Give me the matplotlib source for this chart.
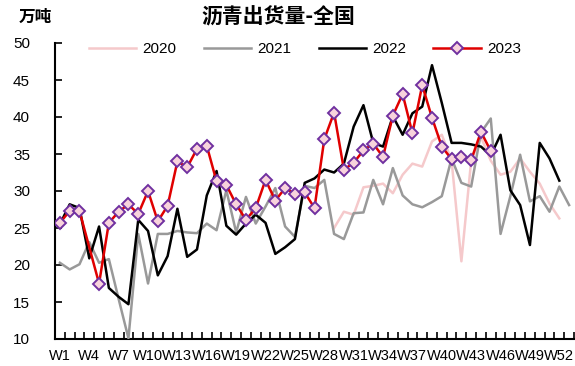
import numpy as np
import matplotlib
matplotlib.use("Agg")
import matplotlib.pyplot as plt

plt.rcParams['font.family'] = ['Liberation Sans', 'Noto Sans CJK SC', 'DejaVu Sans']

weeks = [f"W{i}" for i in range(1, 54)]
nan = np.nan

s2020 = [nan]*28 + [25.0, 27.2, 26.8, 30.5, 30.7, 31.0, 29.7, 32.2, 33.7, 33.3,
                    36.7, 37.6, 34.1, 20.5, 34.1, 37.3, 34.1, 32.2, 32.6, 34.4,
                    32.6, 31.0, 28.3, 26.3, nan]
s2021 = [20.3, 19.4, 20.1, 23.1, 20.3, 20.8, 15.4, 10.1, 24.2, 17.5,
         24.2, 24.2, 24.6, 24.4, 24.3, 25.6, 24.7, 30.1, 24.4, 29.2,
         25.6, 27.9, 30.4, 25.2, 23.8, 30.7, 30.4, 31.5, 24.2, 23.5,
         27.0, 27.1, 31.5, 28.2, 33.1, 29.4, 28.2, 27.8, 28.5, 29.3,
         34.4, 31.1, 30.6, 37.9, 39.8, 24.2, 29.3, 34.9, 28.6, 29.3,
         27.2, 30.6, 28.1]
s2022 = [25.5, 28.2, 27.7, 20.9, 25.2, 16.9, 15.7, 14.7, 26.1, 24.6,
         18.6, 21.2, 27.6, 21.1, 22.1, 29.4, 32.7, 25.3, 24.1, 25.6,
         26.8, 25.7, 21.5, 22.4, 23.5, 31.1, 31.7, 32.9, 32.5, 33.7,
         38.7, 41.6, 36.5, 36.0, 40.1, 37.6, 40.5, 41.4, 47.0, 41.9,
         36.5, 36.5, 36.3, 36.0, 34.8, 37.6, 30.1, 28.1, 22.7, 36.5,
         34.4, 31.4, nan]
s2023 = [25.7, 27.3, 27.3, nan, 17.5, 25.7, 27.2, 28.2, 26.9, 30.0,
         25.9, 28.0, 34.0, 33.2, 35.7, 36.1, 31.3, 30.8, 28.2, 26.1,
         27.7, 31.5, 28.7, 30.4, 29.6, 29.8, 27.7, 37.0, 40.6, 32.9,
         33.8, 35.5, 36.4, 34.6, 40.2, 43.1, 37.8, 44.3, 39.9, 36.0,
         34.3, 34.6, 34.2, 38.0, 35.4] + [nan]*8
yticks = [10, 15, 20, 25, 30, 35, 40, 45, 50]

fig = plt.figure(figsize=(5.75, 3.66), dpi=100)
ax = fig.add_axes([55/575, 27/366, 519/575, 296/366])

x = np.arange(len(weeks))

def plot_series(vals, **kw):
    v = np.array(vals, dtype=float)
    m = ~np.isnan(v)
    return ax.plot(x[m], v[m], **kw)

plot_series(s2020, color='#f5c9cb', lw=1.8, label='2020', zorder=2)
plot_series(s2021, color='#999999', lw=1.8, label='2021', zorder=3)
plot_series(s2022, color='#000000', lw=1.8, label='2022', zorder=4)
plot_series(s2023, color='#e00000', lw=1.8, marker='D', markersize=6.5,
            markerfacecolor='#f8d3dc', markeredgecolor='#7030a0', mew=1.4,
            label='2023', zorder=5)

ax.set_xlim(-0.5, len(weeks) - 0.5)
ax.set_ylim(10, 50)
ax.set_yticks(yticks)
ax.set_yticklabels([str(t) for t in yticks], fontsize=11)
ax.set_xticks(np.arange(len(weeks) + 1) - 0.5, minor=True)
ax.set_xticks(x[::3])
ax.set_xticklabels(weeks[::3], fontsize=10.5)
ax.tick_params(axis='x', which='major', length=0, pad=7)
ax.tick_params(axis='x', which='minor', direction='in', length=5, width=1.2)
ax.tick_params(axis='y', direction='in', length=5, width=1.2, pad=18)
ax.spines['top'].set_visible(False)
ax.spines['right'].set_visible(False)
ax.spines['left'].set_linewidth(1.5)
ax.spines['bottom'].set_linewidth(1.5)

fig.text(0.4835, 0.953, '沥青出货量-全国', ha='center', va='center',
         fontsize=15, fontweight='bold', family=['Noto Sans CJK SC', 'DejaVu Sans'])
fig.text(0.061, 0.953, '万吨', ha='center', va='center',
         fontsize=12, fontweight='bold', family=['Noto Sans CJK SC', 'DejaVu Sans'])

fig.legend(loc='center', bbox_to_anchor=(0.53, 0.866), ncol=4, frameon=False,
           fontsize=11, handlelength=3.1, columnspacing=1.8, handletextpad=0.4)

fig.savefig('out.png', dpi=100)
